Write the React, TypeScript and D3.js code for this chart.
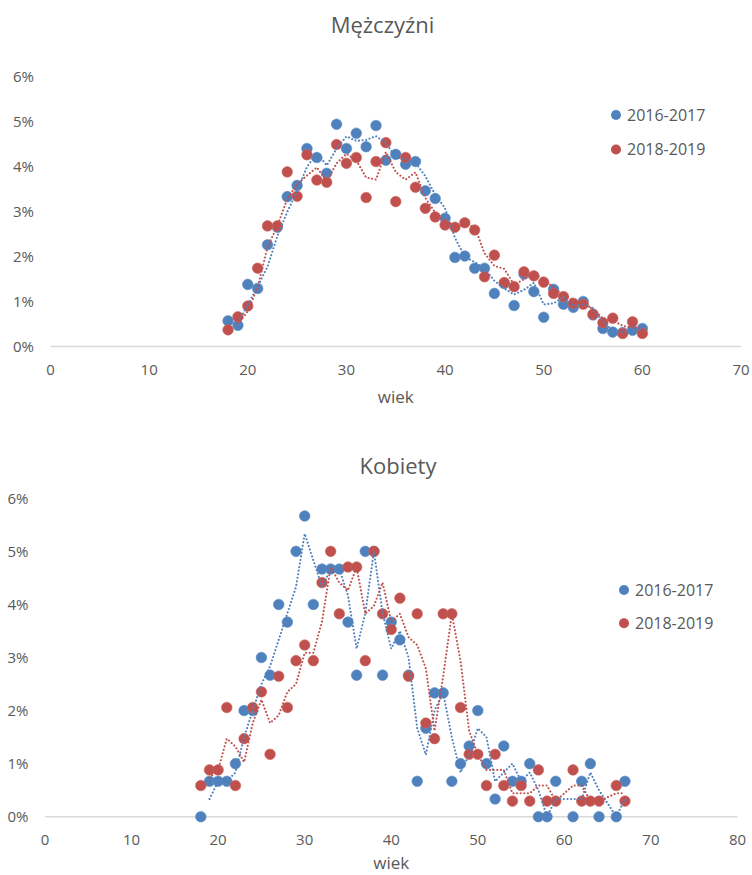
import React from "react";
import * as d3 from "d3";

// ---- Data: Mężczyźni (men) ----
const menAges = [18, 19, 20, 21, 22, 23, 24, 25, 26, 27, 28, 29, 30, 31, 32, 33, 34, 35, 36, 37, 38, 39, 40, 41, 42, 43, 44, 45, 46, 47, 48, 49, 50, 51, 52, 53, 54, 55, 56, 57, 58, 59, 60];
const men2016 = [0.57, 0.47, 1.38, 1.29, 2.26, 2.65, 3.33, 3.58, 4.4, 4.2, 3.85, 4.94, 4.4, 4.74, 4.44, 4.91, 4.14, 4.27, 4.05, 4.11, 3.46, 3.29, 2.85, 1.98, 2.01, 1.74, 1.74, 1.18, 1.4, 0.91, 1.61, 1.22, 0.65, 1.27, 0.94, 0.87, 1.0, 0.7, 0.4, 0.32, 0.31, 0.36, 0.4];
const men2018 = [0.37, 0.66, 0.9, 1.74, 2.68, 2.68, 3.88, 3.34, 4.26, 3.7, 3.65, 4.49, 4.07, 4.2, 3.31, 4.11, 4.53, 3.22, 4.2, 3.54, 3.07, 2.88, 2.7, 2.65, 2.75, 2.59, 1.55, 2.03, 1.42, 1.33, 1.66, 1.57, 1.43, 1.18, 1.11, 0.96, 0.94, 0.72, 0.53, 0.63, 0.29, 0.55, 0.29];

// ---- Data: Kobiety (women) ----
const womenAges = [18, 19, 20, 21, 22, 23, 24, 25, 26, 27, 28, 29, 30, 31, 32, 33, 34, 35, 36, 37, 38, 39, 40, 41, 42, 43, 44, 45, 46, 47, 48, 49, 50, 51, 52, 53, 54, 55, 56, 57, 58, 59, 61, 62, 63, 64, 66, 67];
const women2016 = [0, 0.667, 0.667, 0.667, 1.0, 2.0, 2.0, 3.0, 2.667, 4.0, 3.667, 5.0, 5.667, 4.0, 4.667, 4.667, 4.667, 3.667, 2.667, 5.0, 5.0, 2.667, 3.667, 3.333, 2.667, 0.667, 1.667, 2.333, 2.333, 0.667, 1.0, 1.333, 2.0, 1.0, 0.333, 1.333, 0.667, 0.667, 1.0, 0, 0, 0.667, 0, 0.667, 1.0, 0, 0, 0.667];
const women2018 = [0.588, 0.882, 0.882, 2.059, 0.588, 1.471, 2.059, 2.353, 1.176, 2.647, 2.059, 2.941, 3.235, 2.941, 4.412, 5.0, 3.824, 4.706, 4.706, 2.941, 5.0, 3.824, 3.529, 4.118, 2.647, 3.824, 1.765, 1.471, 3.824, 3.824, 2.059, 1.176, 1.176, 0.588, 1.176, 0.588, 0.294, 0.588, 0.294, 0.882, 0.294, 0.294, 0.882, 0.294, 0.294, 0.294, 0.588, 0.294];

const seriesNames = ["2016-2017", "2018-2019"];
const menXTicks = [0, 10, 20, 30, 40, 50, 60, 70];
const womenXTicks = [0, 10, 20, 30, 40, 50, 60, 70, 80];
const yTicks = [0, 1, 2, 3, 4, 5, 6];

const BLUE = "#4f81bd";
const RED = "#c0504d";
const TEXT = "#595959";
const FONT = "'Open Sans', 'Noto Sans', sans-serif";

type Geo = {
  x0: number; x1: number; y0: number; y1: number;
  xMax: number; yLabelRight: number; xLabelY: number;
  title: string; titleX: number; titleY: number;
  axisTitleY: number; legendX: number; legendY1: number; legendY2: number;
};

function movingAvg(xs: number[], ys: number[]): [number, number][] {
  const out: [number, number][] = [];
  for (let i = 1; i < xs.length; i++) out.push([xs[i], (ys[i] + ys[i - 1]) / 2]);
  return out;
}

function Chart({ g, ages, a, b, xTicks }: { g: Geo; ages: number[]; a: number[]; b: number[]; xTicks: number[] }) {
  const x = d3.scaleLinear().domain([0, g.xMax]).range([g.x0, g.x1]);
  const y = d3.scaleLinear().domain([0, 6]).range([g.y0, g.y1]);
  const line = d3.line<[number, number]>().x((d) => x(d[0])).y((d) => y(d[1]));
  const maA = movingAvg(ages, a);
  const maB = movingAvg(ages, b);
  const r = 5.3;
  return (
    <g>
      <text x={g.titleX} y={g.titleY} textAnchor="middle" fontSize={22} fill={TEXT} fontFamily={FONT}>{g.title}</text>
      {yTicks.map((t) => (
        <text key={t} x={g.yLabelRight} y={y(t)} dy="0.36em" textAnchor="end" fontSize={15} fill={TEXT} fontFamily={FONT}>{t + "%"}</text>
      ))}
      {xTicks.map((t) => (
        <text key={t} x={x(t)} y={g.xLabelY} dy="0.36em" textAnchor="middle" fontSize={15} fill={TEXT} fontFamily={FONT}>{t}</text>
      ))}
      <line x1={g.x0} x2={g.x1} y1={y(0)} y2={y(0)} stroke="#d9d9d9" strokeWidth={1.5} />
      <text x={(g.x0 + g.x1) / 2} y={g.axisTitleY} textAnchor="middle" fontSize={17} fill={TEXT} fontFamily={FONT}>wiek</text>
      {ages.map((age, i) => (
        <circle key={"a" + age} cx={x(age)} cy={y(a[i])} r={r} fill={BLUE} stroke="#5a8cc8" strokeWidth={0.6} />
      ))}
      {ages.map((age, i) => (
        <circle key={"b" + age} cx={x(age)} cy={y(b[i])} r={r} fill={RED} stroke="#cc6461" strokeWidth={0.6} />
      ))}
      <path d={line(maA) || ""} fill="none" stroke={BLUE} strokeWidth={2.1} strokeDasharray="0.01 3.6" strokeLinecap="round" />
      <path d={line(maB) || ""} fill="none" stroke={RED} strokeWidth={2.1} strokeDasharray="0.01 3.6" strokeLinecap="round" />
      {[BLUE, RED].map((c, i) => (
        <g key={c}>
          <circle cx={g.legendX} cy={i === 0 ? g.legendY1 : g.legendY2} r={5} fill={c} />
          <text x={g.legendX + 11} y={i === 0 ? g.legendY1 : g.legendY2} dy="0.36em" fontSize={16} fill={TEXT} fontFamily={FONT}>{seriesNames[i]}</text>
        </g>
      ))}
    </g>
  );
}

export default function App() {
  const top: Geo = {
    x0: 50.5, x1: 741, y0: 346.5, y1: 76.5, xMax: 70, yLabelRight: 34, xLabelY: 370,
    title: "Mężczyźni", titleX: 382.5, titleY: 33, axisTitleY: 403,
    legendX: 616, legendY1: 115, legendY2: 149.5,
  };
  const bottom: Geo = {
    x0: 45, x1: 737.5, y0: 816.7, y1: 498.3, xMax: 80, yLabelRight: 28.5, xLabelY: 840,
    title: "Kobiety", titleX: 398, titleY: 474, axisTitleY: 869,
    legendX: 624, legendY1: 590, legendY2: 623.3,
  };
  return (
    <svg width={752} height={875} style={{ position: "absolute", left: 0, top: 0, background: "#fff" }}>
      <rect width={752} height={875} fill="#fff" />
      <Chart g={top} ages={menAges} a={men2016} b={men2018} xTicks={menXTicks} />
      <Chart g={bottom} ages={womenAges} a={women2016} b={women2018} xTicks={womenXTicks} />
    </svg>
  );
}
